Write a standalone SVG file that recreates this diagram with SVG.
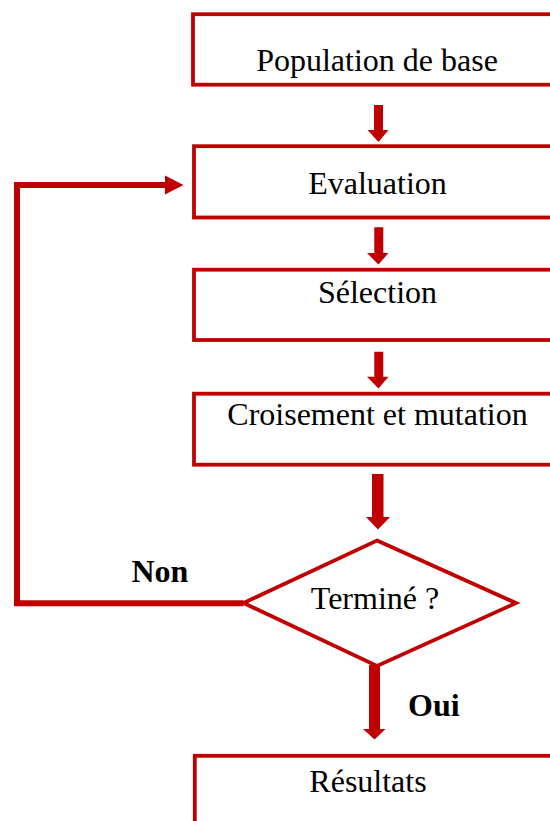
<svg xmlns="http://www.w3.org/2000/svg" width="550" height="821" viewBox="0 0 550 821">
<style>
.box{fill:#fff;stroke:#C00000;stroke-width:3.8}
.lbl{font-family:"Liberation Serif","Times New Roman",serif;font-size:32px;fill:#000;text-anchor:middle}
.b{font-weight:bold;text-anchor:start}
.arrow{fill:#C00000;stroke:none}
.line{fill:none;stroke:#C00000;stroke-width:6}
</style>
<rect width="550" height="821" fill="#fff"/>
<g id="n1"><rect class="box" x="193" y="14.2" width="372" height="70.5"/><text class="lbl" x="377" y="71">Population de base</text></g>
<g id="n2"><rect class="box" x="194" y="146.2" width="372" height="71.3"/><text class="lbl" x="377.5" y="194">Evaluation</text></g>
<g id="n3"><rect class="box" x="194" y="269.7" width="372" height="70.3"/><text class="lbl" x="377.5" y="303">Sélection</text></g>
<g id="n4"><rect class="box" x="194" y="393.7" width="372" height="71"/><text class="lbl" x="377.5" y="425">Croisement et mutation</text></g>
<g id="n5"><polygon points="377,540.5 516,603 377,666 243.5,603" fill="#fff" stroke="#C00000" stroke-width="3.8"/><text class="lbl" x="375" y="608.5">Terminé ?</text></g>
<g id="n6"><rect class="box" x="194.8" y="755.8" width="372" height="80"/><text class="lbl" x="368" y="792">Résultats</text></g>
<g id="connectors">
<polygon class="arrow" points="374,105 383,105 383,130 388.5,130 378.5,142 367.5,130 374,130"/>
<polygon class="arrow" points="374.3,227.3 383.3,227.3 383.3,253 388.5,253 378.5,264.5 367,253 374.3,253"/>
<polygon class="arrow" points="374.3,351.7 383.3,351.7 383.3,376.7 388.5,376.7 378.5,388.5 367,376.7 374.3,376.7"/>
<polygon class="arrow" points="372,474 383.5,474 383.5,517 390,517 378,529.5 366,517 372,517"/>
<polygon class="arrow" points="369,665 380,665 380,729 385.5,729 374.5,739.5 363,729 369,729"/>
<polyline class="line" points="243.5,603.3 17,603.3 17,185 167,185"/>
<polygon class="arrow" points="165,175.5 183.5,185 165,194.5"/>
<text class="lbl b" x="131.5" y="581.7">Non</text>
<text class="lbl b" x="408" y="716">Oui</text>
</g>
</svg>
